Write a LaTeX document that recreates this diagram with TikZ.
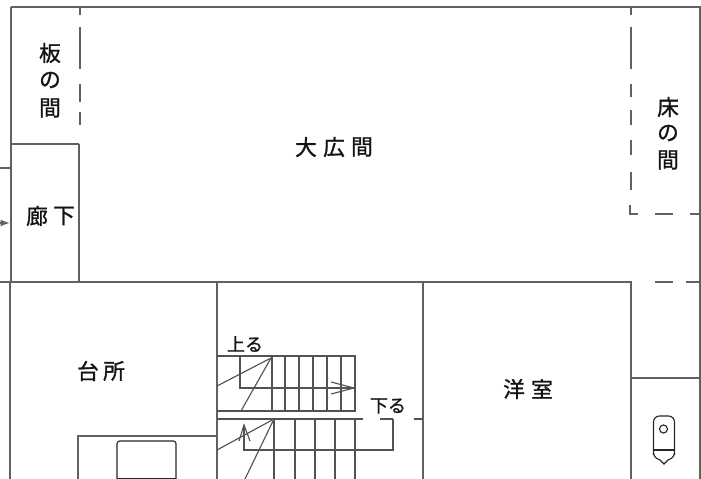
\documentclass[tikz,border=0pt]{standalone}
\usepackage{fontspec}
\usetikzlibrary{arrows.meta}
\newfontfamily\cjk[FakeBold=1.2]{Noto Sans CJK JP}
\tikzset{
  wall/.style={draw=black!62,line width=1pt},
  thin wall/.style={draw=black!68,line width=0.85pt},
  dashwall/.style={draw=black!62,line width=0.9pt},
  room/.style={font=\cjk\fontsize{16.3}{16.3}\selectfont,text=black!92,inner sep=0pt},
  small/.style={font=\cjk\fontsize{13.5}{13.5}\selectfont,text=black!92,inner sep=0pt},
  fixture/.style={draw=black!85,line width=0.85pt}
}
\begin{document}
\begin{tikzpicture}[x=0.75pt,y=-0.75pt]
\useasboundingbox (0,0) rectangle (701,479);
% outer walls
\draw[wall] (11,7) -- (701,7);
\draw[wall] (11,7) -- (11,282) -- (10,282) -- (10,479);
\draw[wall] (700,7) -- (700,479);
\draw[wall] (0,282) -- (632,282);
\draw[wall] (11,144) -- (79,144);
\draw[wall] (79,144) -- (79,282);
\draw[wall] (0,168) -- (10,168);
\draw[wall,-{Latex[length=7pt,width=5pt]}] (0,223) -- (10,223);
% dashed 板の間
\foreach \a/\b in {7/15,27/69,84/102,112/125}
  \draw[dashwall] (80,\a) -- (80,\b);
% dashed 床の間
\foreach \a/\b in {7/15,27/69,84/97,110/125,140/155,172/190}
  \draw[dashwall] (631,\a) -- (631,\b);
\draw[dashwall] (630,205) -- (630,214) -- (638,214);
\draw[dashwall] (655,214) -- (673,214);
\draw[dashwall] (690,214) -- (700,214);
\draw[dashwall] (655,282) -- (673,282);
\draw[dashwall] (686,282) -- (700,282);
% inner walls
\draw[wall] (217,282) -- (217,479);
\draw[wall] (423,282) -- (423,479);
\draw[wall] (631,282) -- (631,479);
\draw[wall] (631,378) -- (700,378);
\draw[wall] (78,479) -- (78,436) -- (217,436);
% upper stairs
\draw[thin wall] (217,356) -- (355,356) -- (355,411) -- (217,411);
\draw[thin wall] (217,419) -- (363,419);
\draw[thin wall] (380,419) -- (393,419);
\draw[thin wall] (414,419) -- (423,419);
\foreach \x in {272,285,299,313,327,341}
  \draw[thin wall] (\x,356) -- (\x,411);
\draw[thin wall] (217,386) -- (271,358);
\draw[thin wall] (241,411) -- (271,358);
\draw[thin wall] (240,356) -- (240,388) -- (354,388);
\draw[thin wall] (331,382) -- (354,388) -- (331,394);
% lower stairs
\foreach \x in {274,295,315,335,355}
  \draw[thin wall] (\x,419) -- (\x,479);
\draw[thin wall] (217,450) -- (274,419);
\draw[thin wall] (245,479) -- (274,419);
\draw[thin wall] (393,419) -- (393,450) -- (244,450) -- (244,425);
\draw[thin wall] (239,441) -- (244,425) -- (250,441);
% kitchen fixture
\draw[fixture,rounded corners=2pt] (117,479) -- (117,441) -- (176,441) -- (176,479);
\draw[fixture] (117,478.5) -- (176,478.5);
% toilet
\draw[fixture,rounded corners=4.5pt] (653.5,455) -- (653.5,416) -- (674.5,416) -- (674.5,455);
\draw[fixture] (653.5,450) -- (674.5,450);
\draw[fixture] (653.5,453) .. controls (654,458) and (658,459) .. (660,460) -- (664,464) -- (668,460) .. controls (670,459) and (674,458) .. (674.5,453);
\draw[fixture] (663.5,429) circle[radius=3pt];
% labels
\node[room] (ita1) at (50,53) {板};
\node[room] (ita2) at (50,80) {の};
\node[room] (ita3) at (50,108) {間};
\node[room] (oo1) at (306,147) {大};
\node[room] (oo2) at (334,147) {広};
\node[room] (oo3) at (362,147) {間};
\node[room] (to1) at (668,107) {床};
\node[room] (to2) at (668,133) {の};
\node[room] (to3) at (668,160) {間};
\node[room] (ro1) at (37,216) {廊};
\node[room] (ro2) at (64,216) {下};
\node[room] (da1) at (88,371) {台};
\node[room] (da2) at (114,371) {所};
\node[room] (yo1) at (514,389) {洋};
\node[room] (yo2) at (542,389) {室};
\node[small] (up) at (245,344) {上る};
\node[small] (down) at (388,406) {下る};
\end{tikzpicture}
\end{document}
